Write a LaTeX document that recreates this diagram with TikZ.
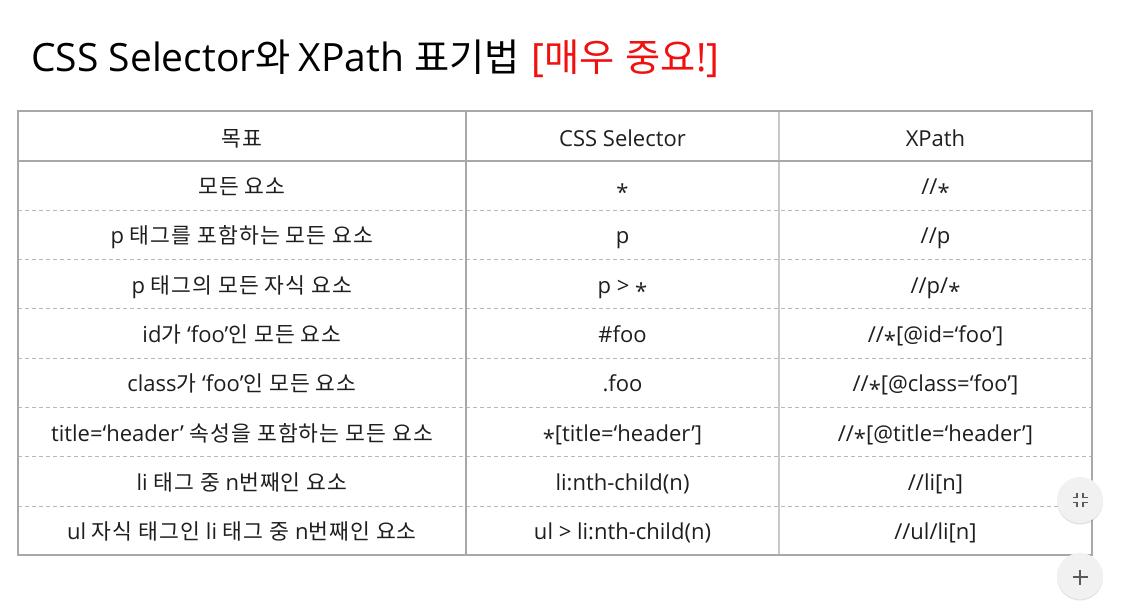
\documentclass[tikz,border=0pt]{standalone}
\usepackage{fontspec}
\setmainfont{Open Sans}
\newfontfamily\krfont[Scale=0.98,LetterSpace=5]{Noto Sans CJK KR}
\newfontfamily\krtitle[Scale=0.98]{Noto Sans CJK KR}
\newcommand\kr[1]{{\krfont #1}}
\newcommand\krt[1]{{\krtitle #1}}
\usetikzlibrary{shadows}
\definecolor{txt}{HTML}{1E1E1E}
\definecolor{titlered}{HTML}{F01010}
\definecolor{border}{HTML}{A8A8A8}
\definecolor{inner}{HTML}{C8C8C8}
\definecolor{dash}{HTML}{B8B8B8}
\definecolor{btn}{HTML}{F1F1F1}
\definecolor{icon}{HTML}{5A5A5A}
\newcommand\stc{\raisebox{-0.27em}{*}}
\begin{document}
\begin{tikzpicture}[x=1pt,y=-1pt,
  cell/.style={anchor=base, inner sep=0pt, font=\fontsize{22}{24}\selectfont, text=txt},
  outerline/.style={draw=border, line width=2pt},
  colline/.style={draw=inner, line width=1.3pt},
  rowline/.style={draw=dash, line width=0.9pt, dash pattern=on 4pt off 3pt},
  button/.style={circle, fill=btn, minimum size=46pt, inner sep=0pt,
     drop shadow={opacity=0.22, shadow xshift=0pt, shadow yshift=-1.5pt}},
  iconline/.style={draw=icon, line width=1.8pt}]
\useasboundingbox (0,0) rectangle (1127,602);
\fill[white] (0,0) rectangle (1127,602);
% title
\node[anchor=base west, inner sep=0pt, font=\fontsize{39}{42}\selectfont, text=black] (title) at (31,72)
  {CSS Selector\krt{와}\hspace{8pt}XPath\hspace{10pt}\krt{표기법}\hspace{12pt}\textcolor{titlered}{[\krt{매우}\hspace{11pt}\krt{중요}!]}};
% table lines
\foreach \k in {1,...,7} {
  \draw[rowline] (18,161+\k*49.3) -- (1092,161+\k*49.3);
}
\draw[colline] (779,111) -- (779,555.4);
\draw[outerline] (466,111) -- (466,555.4);
\draw[outerline] (18,161) -- (1092,161);
\draw[outerline] (18,111) rectangle (1092,555.4);
% header
\node[cell] (h1) at (242,146.5) {\kr{목표}};
\node[cell] (h2) at (622.5,146.5) {CSS Selector};
\node[cell] (h3) at (935.5,146.5) {XPath};
% rows
\foreach \i/\a/\b/\c in {
  0/{\kr{모든 요소}}/{\stc}/{//\stc},
  1/{p \kr{태그를 포함하는 모든 요소}}/{p}/{//p},
  2/{p \kr{태그의 모든 자식 요소}}/{p > \stc}/{//p/\stc},
  3/{id\kr{가} ‘foo’\kr{인 모든 요소}}/{\#foo}/{//\stc[@id=‘foo’]},
  4/{class\kr{가} ‘foo’\kr{인 모든 요소}}/{.foo}/{//\stc[@class=‘foo’]},
  5/{title=‘header’ \kr{속성을 포함하는 모든 요소}}/{\stc[title=‘header’]}/{//\stc[@title=‘header’]},
  6/{li \kr{태그 중} n\kr{번째인 요소}}/{li:nth-child(n)}/{//li[n]},
  7/{ul \kr{자식 태그인} li \kr{태그 중} n\kr{번째인 요소}}/{ul > li:nth-child(n)}/{//ul/li[n]}} {
  \node[cell] (a\i) at (242,161+\i*49.3+33.5) {\a};
  \node[cell] (b\i) at (622.5,161+\i*49.3+33.5) {\b};
  \node[cell] (c\i) at (935.5,161+\i*49.3+33.5) {\c};
}
% buttons
\node[button] (btnA) at (1080,500) {};
\node[button] (btnB) at (1080,576) {};
\draw[iconline] (1077,493) -- (1077,497.5) -- (1072.5,497.5);
\draw[iconline] (1083,493) -- (1083,497.5) -- (1087.5,497.5);
\draw[iconline] (1077,507) -- (1077,502.5) -- (1072.5,502.5);
\draw[iconline] (1083,507) -- (1083,502.5) -- (1087.5,502.5);
\draw[iconline] (1072.5,577) -- (1087.5,577);
\draw[iconline] (1080,569.5) -- (1080,584.5);
\end{tikzpicture}
\end{document}
